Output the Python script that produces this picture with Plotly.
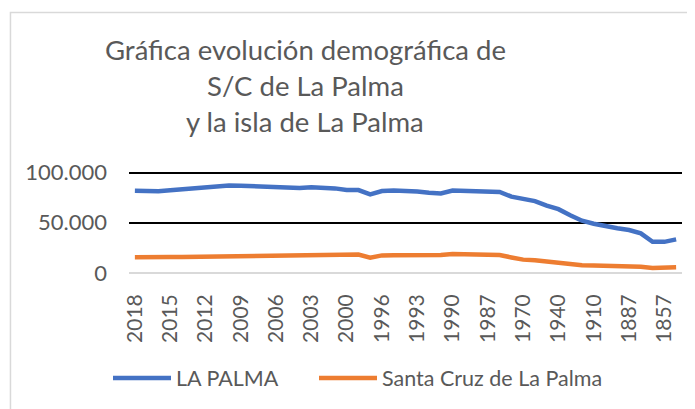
import plotly.graph_objects as go

years = ["2018", "2017", "2016", "2015", "2014", "2013", "2012", "2011", "2010", "2009",
         "2008", "2007", "2006", "2005", "2004", "2003", "2002", "2001", "2000", "1999",
         "1998", "1996", "1995", "1994", "1993", "1992", "1991", "1990", "1989", "1988",
         "1987", "1986", "1981", "1970", "1960", "1950", "1940", "1930", "1920", "1910",
         "1900", "1897", "1887", "1877", "1860", "1857", "1842"]

la_palma = [81900, 81200, 81400, 82300, 83400, 84800, 85500, 86300, 87000, 86800,
            86500, 86000, 85800, 85000, 84500, 85400, 85300, 84200, 82600, 82500,
            78300, 81500, 82000, 82000, 81000, 79800, 79200, 82000, 81600, 81200,
            80800, 80700, 76000, 73500, 71500, 67000, 63500, 57500, 52000, 49000,
            46500, 44500, 42800, 39500, 31000, 31000, 33500]

santa_cruz = [15700, 15400, 15600, 15800, 16000, 16200, 16500, 16700, 17000, 17200,
              17300, 17400, 17500, 17700, 17900, 18100, 18200, 18300, 18400, 18300,
              15300, 17500, 17600, 17600, 17600, 17600, 17800, 18800, 18500, 18300,
              18200, 17800, 15500, 13300, 12800, 11500, 10000, 8200, 7700, 7500,
              7300, 7200, 7000, 6300, 5000, 5000, 5700]

series_names = ["LA PALMA", "Santa Cruz de La Palma"]
series_colors = ["#4472C4", "#ED7D31"]

y_tickvals = [0, 50000, 100000]
y_ticktext = ["0", "50.000", "100.000"]
y_max = 101500
x_tickvals = years[::3]

title_lines = ["Gráfica evolución demográfica de", "S/C de La Palma", "y la isla de La Palma"]

# page has an 8px body margin: figure is drawn 8px in, so work in shifted pixels
OFF = 8
W, H = 695 - OFF, 409 - OFF
L, R, B = 128.7 - OFF, 682.5 - OFF, 273.3 - OFF
T = B - (B - (172.5 - OFF)) * y_max / 100000


def px_x(x):
    return (x - OFF - L) / (R - L)


def px_y(y):
    return (B - (y - OFF)) / (B - T)


FONT = "Lato"
GRAY = "#595959"

fig = go.Figure()
legend_ids = ["legend", "legend2"]
for name, vals, col, lg in zip(series_names, [la_palma, santa_cruz], series_colors, legend_ids):
    fig.add_trace(go.Scatter(x=years, y=vals, mode="lines", name=name, legend=lg,
                             line=dict(color=col, width=4.5, shape="linear")))

annotations = []
for line, yc in zip(title_lines, [49, 85, 121]):
    annotations.append(dict(text=line, x=px_x(305), y=px_y(yc), xref="paper", yref="paper",
                            xanchor="center", yanchor="middle", showarrow=False,
                            font=dict(family=FONT, size=27.5, color=GRAY)))


def legend_at(x_sample_start, y_center):
    return dict(orientation="h", xref="container", yref="container",
                x=(x_sample_start - 6 - OFF) / W, y=1 - (y_center - OFF) / H,
                xanchor="left", yanchor="middle",
                font=dict(family=FONT, size=21.5, color=GRAY), itemwidth=58,
                bgcolor="rgba(0,0,0,0)")


fig.update_layout(
    width=W, height=H,
    margin=dict(l=L, r=W - R, t=T, b=H - B, pad=0, autoexpand=False),
    paper_bgcolor="white", plot_bgcolor="white",
    font=dict(family=FONT, color=GRAY),
    annotations=annotations,
    showlegend=True,
    legend=legend_at(114, 378),
    legend2=legend_at(320, 378),
    shapes=[dict(type="rect", xref="paper", yref="paper",
                 x0=px_x(10), y0=px_y(12), x1=px_x(720), y1=px_y(430),
                 line=dict(color="#D9D9D9", width=1.5), fillcolor="rgba(0,0,0,0)", layer="below")],
)

fig.update_xaxes(type="category", categoryorder="array", categoryarray=years,
                 range=[-0.5, len(years) - 0.5], tickmode="array", tickvals=x_tickvals,
                 tickangle=-90, tickfont=dict(family=FONT, size=21, color=GRAY),
                 showgrid=False, showline=False, zeroline=False, ticks="",
                 ticklabelstandoff=16, automargin=False)
fig.update_yaxes(range=[0, y_max], tickmode="array", tickvals=y_tickvals, ticktext=y_ticktext,
                 tickfont=dict(family=FONT, size=22, color=GRAY),
                 showgrid=True, gridcolor="#000000", gridwidth=1.5,
                 zeroline=True, zerolinecolor="#D9D9D9", zerolinewidth=2,
                 showline=False, ticks="", ticklabelstandoff=21, automargin=False)

fig.write_html("out.html")
